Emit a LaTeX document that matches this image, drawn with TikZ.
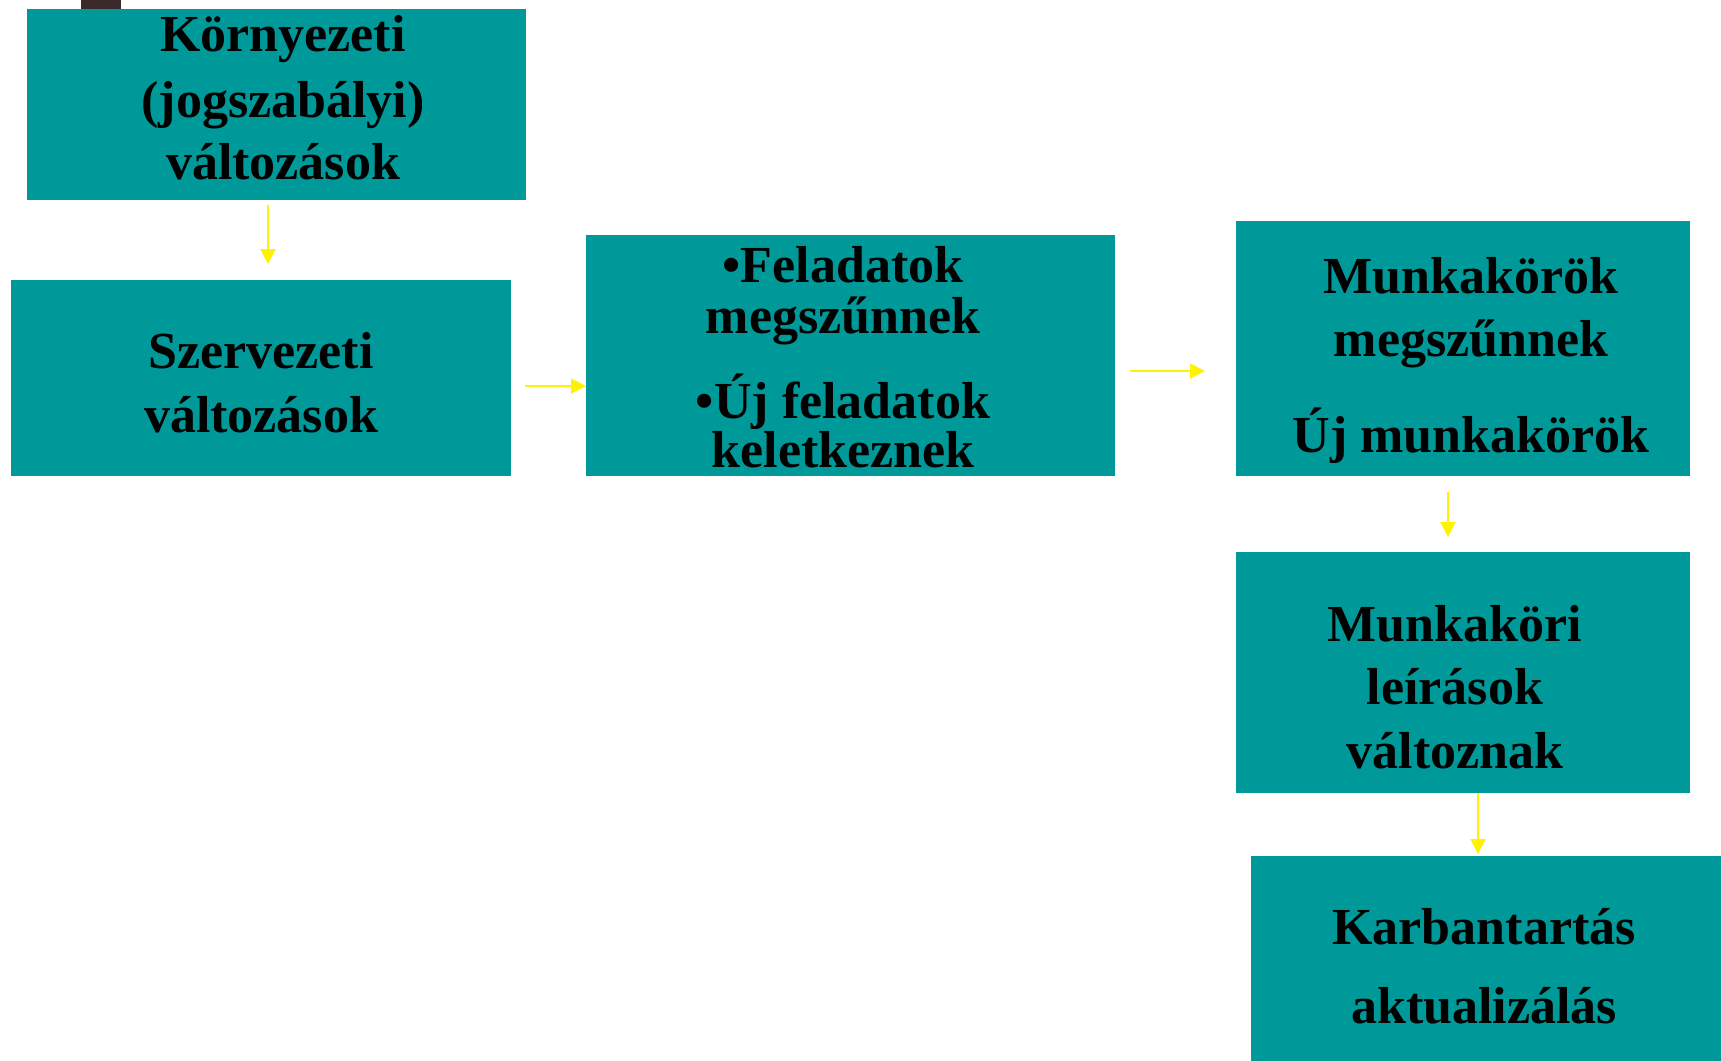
\documentclass[tikz,border=0pt]{standalone}
\usepackage{fontspec}
\setmainfont{Liberation Serif}
\usetikzlibrary{arrows.meta}
\definecolor{teal1}{HTML}{009999}
\definecolor{darkbar}{HTML}{3B2A2A}
\begin{document}
\begin{tikzpicture}[x=0.5pt,y=-0.5pt,
 box/.style={fill=teal1, draw=none, inner sep=0, outer sep=0},
 txt/.style={font=\fontsize{26}{30}\selectfont\bfseries, inner sep=0, anchor=base},
 arr/.style={draw=yellow, line width=1pt, -{Triangle[width=7.5pt,length=7.5pt]}}]
\useasboundingbox (0,0) rectangle (1721,1061);
\fill[darkbar] (81,0) rectangle (121,9);
% boxes
\node[box, minimum width=249.5pt, minimum height=95.5pt] (b1) at (276.5,104.5) {};
\node[box, minimum width=250pt, minimum height=98pt] (b2) at (261,378) {};
\node[box, minimum width=264.5pt, minimum height=120.5pt] (b3) at (850.5,355.5) {};
\node[box, minimum width=227pt, minimum height=127.5pt] (b4) at (1463,348.5) {};
\node[box, minimum width=227pt, minimum height=120.5pt] (b5) at (1463,672.5) {};
\node[box, minimum width=235pt, minimum height=102.5pt] (b6) at (1486,958.5) {};
% texts
\node[txt] (t11) at (283,51) {Környezeti};
\node[txt] (t12) at (283,117) {(jogszabályi)};
\node[txt] (t13) at (283,179) {változások};
\node[txt] (t21) at (261,368) {Szervezeti};
\node[txt] (t22) at (261,432) {változások};
\node[txt] (t31) at (843,282) {•Feladatok};
\node[txt] (t32) at (843,333) {megszűnnek};
\node[txt] (t33) at (843,418) {•Új feladatok};
\node[txt] (t34) at (843,467) {keletkeznek};
\node[txt] (t41) at (1471,293) {Munkakörök};
\node[txt] (t42) at (1471,356) {megszűnnek};
\node[txt] (t43) at (1471,452) {Új munkakörök};
\node[txt] (t51) at (1455,641) {Munkaköri};
\node[txt] (t52) at (1455,704) {leírások};
\node[txt] (t53) at (1455,768) {változnak};
\node[txt] (t61) at (1484,944) {Karbantartás};
\node[txt] (t62) at (1484,1023) {aktualizálás};
% arrows
\draw[arr, shorten <=2.5pt, shorten >=8pt] ([xshift=-4.25pt]b1.south) -- ([xshift=-4.25pt]b1.south |- b2.north);
\draw[arr, shorten <=7pt] ([yshift=-4pt]b2.east) -- ([yshift=-4pt]b2.east -| b3.west);
\draw[arr, shorten <=7.5pt, shorten >=15.5pt] ([yshift=-7.75pt]b3.east) -- ([yshift=-7.75pt]b3.east -| b4.west);
\draw[arr, shorten <=8pt, shorten >=7.5pt] ([xshift=-7.5pt]b4.south) -- ([xshift=-7.5pt]b4.south |- b5.north);
\draw[arr, shorten >=1pt] ([xshift=7.5pt]b5.south) -- ([xshift=7.5pt]b5.south |- b6.north);
\end{tikzpicture}
\end{document}
